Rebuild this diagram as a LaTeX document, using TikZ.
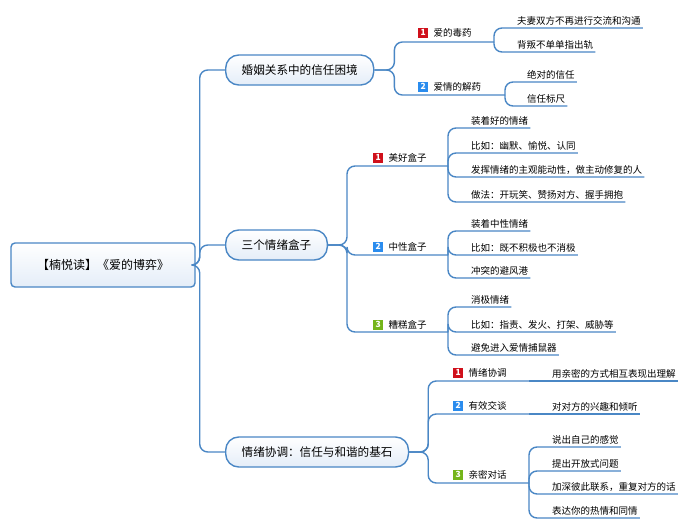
\documentclass[tikz,border=0pt]{standalone}
\usepackage{fontspec}
\setmainfont{Noto Sans CJK SC}
\usetikzlibrary{positioning}
\definecolor{lineblue}{HTML}{4A87C5}
\definecolor{boxfill}{HTML}{E4EDF8}
\definecolor{badgered}{HTML}{D0101B}
\definecolor{badgeblue}{HTML}{2A8CEE}
\definecolor{badgegreen}{HTML}{74B51A}
\tikzset{
	branch/.style={draw=lineblue, line width=1.4pt, rounded corners=8pt},
	rootbox/.style={draw=lineblue, line width=1.4pt, rounded corners=4pt, top color=white, bottom color=boxfill, minimum width=184pt, minimum height=44pt, font=\fontsize{12}{14}\selectfont},
	topic/.style={draw=lineblue, line width=1.4pt, rounded corners=13pt, top color=white, bottom color=boxfill, inner xsep=16pt, minimum height=30pt, anchor=west, font=\fontsize{11.6}{14}\selectfont},
	badge/.style={fill=#1, text=white, font=\fontsize{8.5}{8.5}\selectfont\bfseries, minimum size=10pt, inner sep=0pt, anchor=south west},
	sub/.style={font=\fontsize{9.5}{11}\selectfont, inner sep=0pt},
	leaf/.style={font=\fontsize{9.5}{11}\selectfont, inner xsep=2pt, inner ysep=2.5pt, text height=8pt, text depth=1pt, anchor=south west}
}
\begin{document}
\begin{tikzpicture}[x=1pt,y=-1pt]
		\fill[white] (0,0) rectangle (683,530);
		\useasboundingbox (0,0) rectangle (683,530);
		\node[rootbox] (root) at (103,265) {【楠悦读】《爱的博弈》};
		\node[topic] (m1) at (225,70) {婚姻关系中的信任困境};
		\node[topic] (m2) at (225,245) {三个情绪盒子};
		\node[topic] (m3) at (225,452) {情绪协调：信任与和谐的基石};
		\foreach \m in {m1,m2,m3} % trunk
		\draw[branch] (root.east) -- ++(4,0) |- (\m.west);
		% first topic
		\node[badge=badgered] (b11) at (418,38) {1};
		\node[sub, right=5pt of b11] (s11) {爱的毒药};
		\node[badge=badgeblue] (b12) at (418,92) {2};
		\node[sub, right=5pt of b12] (s12) {爱情的解药};
		\coordinate (e11) at (494,42);
		\coordinate (e12) at (505,95);
		\foreach \e in {e11,e12}
		\draw[branch] (m1.east) -- ++(20,0) |- (\e);
		\foreach \t/\y [count=\i] in {夫妻双方不再进行交流和沟通/28, 背叛不单单指出轨/52}
		{\node[leaf] (l11\i) at (515,\y) {\t};
		\draw[branch] (e11) |- (l11\i.south east);}
		\foreach \t/\y [count=\i] in {绝对的信任/82, 信任标尺/106}
		{\node[leaf] (l12\i) at (525,\y) {\t};
		\draw[branch] (e12) |- (l12\i.south east);}
		% second topic
		\node[badge=badgered] (b21) at (373,163) {1};
		\node[sub, right=5pt of b21] (s21) {美好盒子};
		\node[badge=badgeblue] (b22) at (373,252) {2};
		\node[sub, right=5pt of b22] (s22) {中性盒子};
		\node[badge=badgegreen] (b23) at (373,330) {3};
		\node[sub, right=5pt of b23] (s23) {糟糕盒子};
		\coordinate (e21) at (448,166);
		\coordinate (e22) at (448,255);
		\coordinate (e23) at (448,332);
		\foreach \e in {e21,e22,e23}
		\draw[branch] (m2.east) -- ++(19,0) |- (\e);
		\foreach \t/\y [count=\i] in {装着好的情绪/128, 比如：幽默、愉悦、认同/153, 发挥情绪的主观能动性，做主动修复的人/177, 做法：开玩笑、赞扬对方、握手拥抱/202}
		{\node[leaf] (l21\i) at (469,\y) {\t};
		\draw[branch] (e21) |- (l21\i.south east);}
		\foreach \t/\y [count=\i] in {装着中性情绪/231, 比如：既不积极也不消极/255, 冲突的避风港/278}
		{\node[leaf] (l22\i) at (469,\y) {\t};
		\draw[branch] (e22) |- (l22\i.south east);}
		\foreach \t/\y [count=\i] in {消极情绪/307, 比如：指责、发火、打架、威胁等/332, 避免进入爱情捕鼠器/355}
		{\node[leaf] (l23\i) at (469,\y) {\t};
		\draw[branch] (e23) |- (l23\i.south east);}
		% third topic
		\node[badge=badgered] (b31) at (453,378) {1};
		\node[sub, right=5pt of b31] (s31) {情绪协调};
		\node[badge=badgeblue] (b32) at (453,411) {2};
		\node[sub, right=5pt of b32] (s32) {有效交谈};
		\node[badge=badgegreen] (b33) at (453,480) {3};
		\node[sub, right=5pt of b33] (s33) {亲密对话};
		\coordinate (e31) at (529,381);
		\coordinate (e32) at (529,414);
		\coordinate (e33) at (529,483);
		\foreach \e in {e31,e32,e33}
		\draw[branch] (m3.east) -- ++(19,0) |- (\e);
		\node[leaf] (l311) at (550,381) {用亲密的方式相互表现出理解};
		\draw[branch] (e31) -- (l311.south east);
		\node[leaf] (l321) at (550,414) {对对方的兴趣和倾听};
		\draw[branch] (e32) -- (l321.south east);
		\foreach \t/\y [count=\i] in {说出自己的感觉/447, 提出开放式问题/471, 加深彼此联系，重复对方的话/494, 表达你的热情和同情/518}
		{\node[leaf] (l33\i) at (550,\y) {\t};
		\draw[branch] (e33) |- (l33\i.south east);}
		\end{tikzpicture}
\end{document}
